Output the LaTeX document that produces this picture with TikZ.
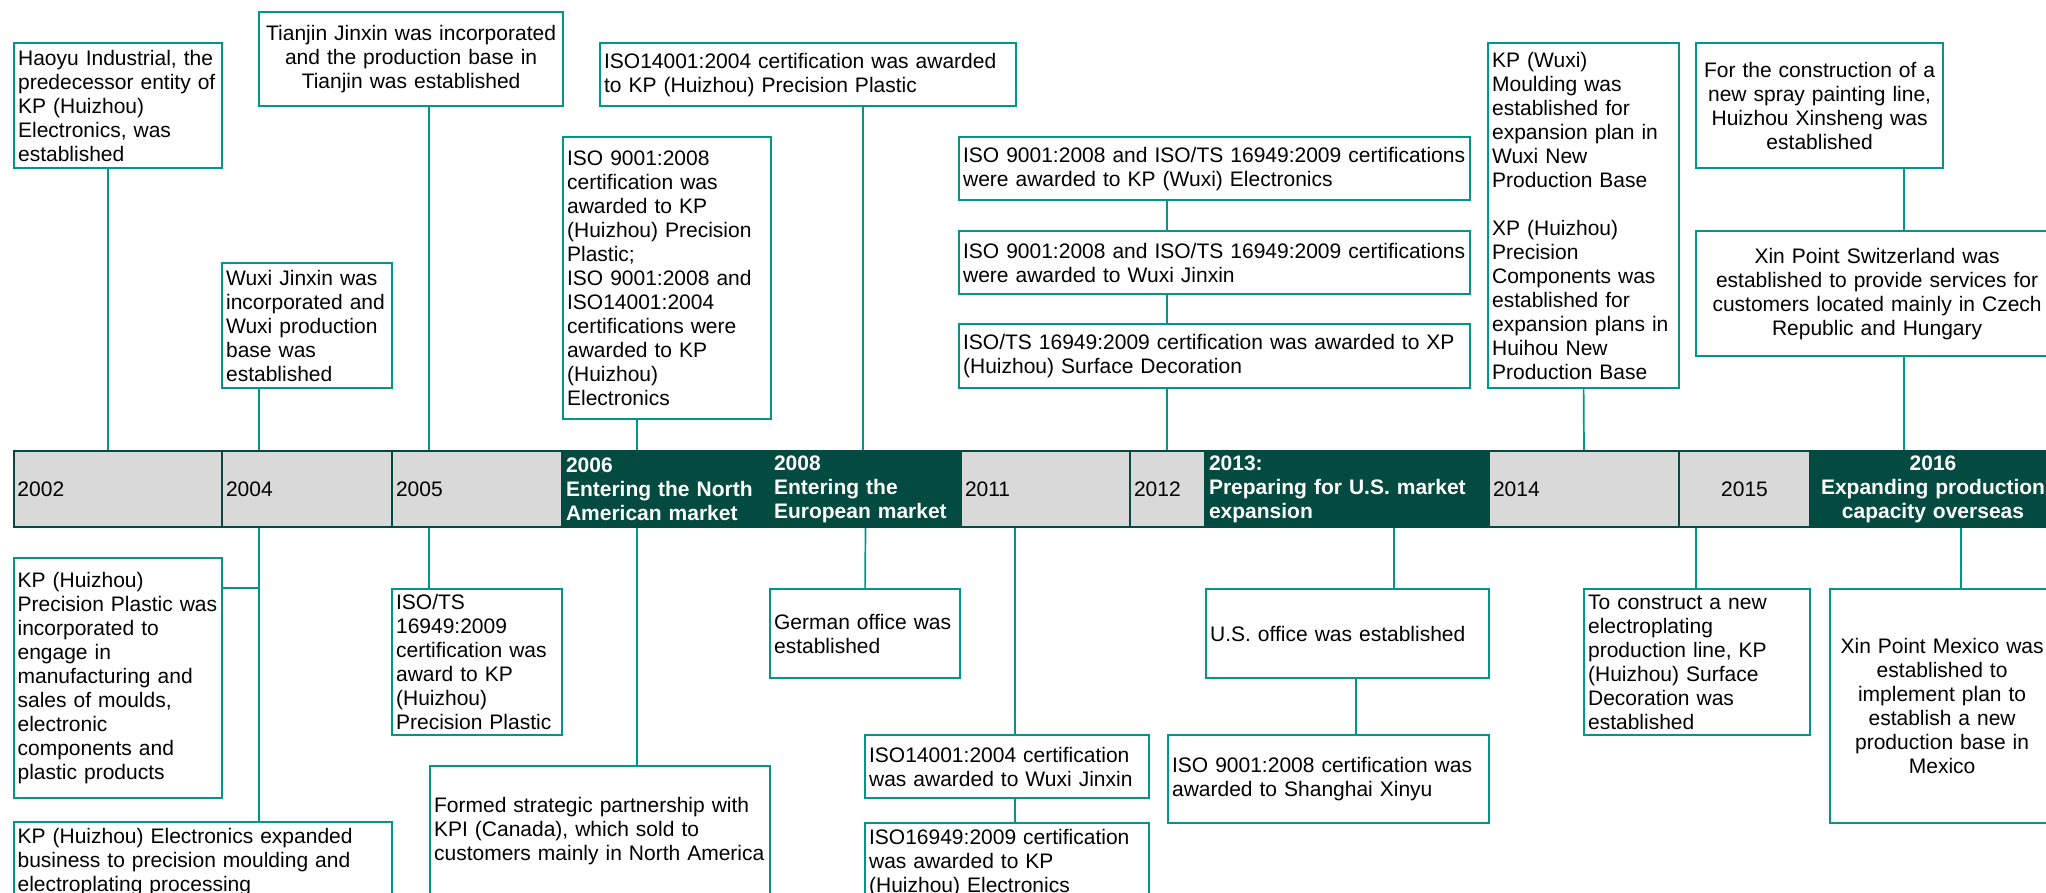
\documentclass[tikz,border=0pt]{standalone}
\usepackage{fontspec}
\setmainfont{Liberation Sans}
\usepackage{xcolor}
\definecolor{tealline}{RGB}{0,150,136}
\definecolor{pine}{RGB}{3,75,64}
\definecolor{cellgrey}{RGB}{217,217,217}

\begin{document}
\begin{tikzpicture}[
    x=0.5pt,y=-0.5pt,font=\fontsize{10.5pt}{12pt}\selectfont,
    event/.style={draw=tealline,line width=1.1pt,fill=white,anchor=north west,
        inner xsep=2pt,inner ysep=0pt,align=left},
    eventc/.style={event,align=center},
    link/.style={draw=tealline,line width=0.85pt},
    yearcell/.style={draw=pine,line width=1pt,fill=cellgrey,anchor=north west,
        minimum height=38pt,inner xsep=2pt,inner ysep=0pt,align=left},
    milestone/.style={yearcell,fill=pine,text=white,
        font=\fontsize{10.5pt}{12pt}\selectfont\bfseries}
]
\useasboundingbox (0,0) rectangle (2046,893);
\clip (0,0) rectangle (2046,893);
\fill[white] (0,0) rectangle (2046,893);

% Bar of years.
\node[yearcell,text width=100.25pt] (y02) at (12.5,450) {2002};
\node[yearcell,text width=81pt] (y04) at (221,450) {2004};
\node[yearcell,text width=81pt] (y05) at (391,450) {2005};
\node[yearcell,text width=80.5pt] (y11) at (960,450) {2011};
\node[yearcell,text width=33.5pt] (y12) at (1129,450) {2012};
\node[yearcell,text width=91pt] (y14) at (1488,450) {2014};
\node[yearcell,text width=61.5pt,align=center] (y15) at (1678,450) {2015};
\node[milestone,text width=100pt] (y06) at (561,450)
    {2006\\Entering the North\\American market};
\node[milestone,text width=91.5pt] (y08) at (769,450)
    {2008\\Entering the\\European market};
\node[milestone,text width=138pt] (y13) at (1204,450)
    {2013:\\Preparing for U.S. market\\expansion};
\node[milestone,text width=119pt,align=center] (y16) at (1809,450)
    {2016\\Expanding production\\capacity overseas};

% Events above the bar.
\node[event,text width=100pt,minimum height=62.5pt] (haoyu) at (13,42)
    {Haoyu Industrial, the\\predecessor entity of\\KP (Huizhou)\\Electronics, was\\established};
\node[eventc,text width=148pt,minimum height=47pt] (tianjin) at (258,11)
    {Tianjin Jinxin was incorporated\\and the production base in\\Tianjin was established};
\node[event,text width=81pt,minimum height=62.5pt] (wuxijx) at (221,262)
    {Wuxi Jinxin was\\incorporated and\\Wuxi production\\base was\\established};
\node[event,text width=204pt,minimum height=31.5pt] (isohz) at (599,42)
    {ISO14001:2004 certification was awarded\\to KP (Huizhou) Precision Plastic};
\node[event,text width=100pt,minimum height=141pt] (iso9001) at (562,136)
    {ISO 9001:2008\\certification was\\awarded to KP\\(Huizhou) Precision\\Plastic;\\ISO 9001:2008 and\\ISO14001:2004\\certifications were\\awarded to KP\\(Huizhou)\\Electronics};
\node[event,text width=251.5pt,minimum height=31.5pt] (certa) at (958,136)
    {ISO 9001:2008 and ISO/TS 16949:2009 certifications\\were awarded to KP (Wuxi) Electronics};
\node[event,text width=251.5pt,minimum height=31.5pt] (certb) at (958,230)
    {ISO 9001:2008 and ISO/TS 16949:2009 certifications\\were awarded to Wuxi Jinxin};
\node[event,text width=251.5pt,minimum height=32pt] (certc) at (958,323)
    {ISO/TS 16949:2009 certification was awarded to XP\\(Huizhou) Surface Decoration};
\node[event,text width=91.5pt,minimum height=172.5pt] (kpwx) at (1487,42)
    {KP (Wuxi)\\Moulding was\\established for\\expansion plan in\\Wuxi New\\Production Base\\[12pt]XP (Huizhou)\\Precision\\Components was\\established for\\expansion plans in\\Huihou New\\Production Base};
\node[eventc,text width=119.5pt,minimum height=62.5pt] (spray) at (1695,42)
    {For the construction of a\\new spray painting line,\\Huizhou Xinsheng was\\established};
\node[eventc,text width=177pt,minimum height=62.5pt] (swiss) at (1695,230)
    {Xin Point Switzerland was\\established to provide services for\\customers located mainly in Czech\\Republic and Hungary};

% Events below the bar.
\node[event,text width=100.25pt,minimum height=120pt] (pp) at (12.5,557)
    {KP (Huizhou)\\Precision Plastic was\\incorporated to\\engage in\\manufacturing and\\sales of moulds,\\electronic\\components and\\plastic products};
\node[event,text width=185.25pt,minimum height=40pt] (expand) at (12.5,821)
    {KP (Huizhou) Electronics expanded\\business to precision moulding and\\electroplating processing};
\node[event,text width=81pt,minimum height=73pt] (isots) at (391,588)
    {ISO/TS\\16949:2009\\certification was\\award to KP\\(Huizhou)\\Precision Plastic};
\node[event,text width=166pt,minimum height=65pt] (formed) at (429,765)
    {Formed strategic partnership with\\KPI (Canada), which sold to\\customers mainly in North America};
\node[event,text width=91pt,minimum height=44.5pt] (german) at (769,588)
    {German office was\\established};
\node[event,text width=138pt,minimum height=31.5pt] (isowx) at (864,734)
    {ISO14001:2004 certification\\was awarded to Wuxi Jinxin};
\node[event,text width=138pt,minimum height=40pt] (iso169) at (864,822)
    {ISO16949:2009 certification\\was awarded to KP\\(Huizhou) Electronics};
\node[event,text width=137.5pt,minimum height=44.5pt] (usoff) at (1205,588)
    {U.S. office was established};
\node[event,text width=156.5pt,minimum height=44pt] (shanghai) at (1167,734)
    {ISO 9001:2008 certification was\\awarded to Shanghai Xinyu};
\node[event,text width=109pt,minimum height=73pt] (construct) at (1583,588)
    {To construct a new\\electroplating\\production line, KP\\(Huizhou) Surface\\Decoration was\\established};
\node[eventc,text width=108pt,minimum height=117pt] (mexico) at (1829,588)
    {Xin Point Mexico was\\established to\\implement plan to\\establish a new\\production base in\\Mexico};

% Connectors above the bar.
\draw[link] (haoyu.south -| 108,0) -- (y02.north -| 108,0);
\draw[link] (wuxijx.south -| 259,0) -- (y04.north -| 259,0);
\draw[link] (tianjin.south -| 429,0) -- (y05.north -| 429,0);
\draw[link] (iso9001.south -| 637,0) -- (y06.north -| 637,0);
\draw[link] (isohz.south -| 863,0) -- (y08.north -| 863,0);
\draw[link] (certa.south -| 1167,0) -- (certb.north -| 1167,0);
\draw[link] (certb.south -| 1167,0) -- (certc.north -| 1167,0);
\draw[link] (certc.south -| 1167,0) -- (y12.north -| 1167,0);
\draw[link] (kpwx.south) -- (y14.north);
\draw[link] (spray.south -| 1904,0) -- (swiss.north -| 1904,0);
\draw[link] (swiss.south -| 1904,0) -- (y16.north -| 1904,0);

% Connectors below the bar.
\coordinate (j04) at (259,588);
\draw[link] (y04.south -| j04) -- (expand.north -| j04);
\draw[link] (pp.east |- j04) -- (j04);
\draw[link] (y05.south -| 429,0) -- (isots.north -| 429,0);
\draw[link] (y06.south -| 637,0) -- (formed.north -| 637,0);
\draw[link] (y08.south) -- (german.north);
\draw[link] (y11.south -| 1015,0) -- (isowx.north -| 1015,0);
\draw[link] (isowx.south -| 1015,0) -- (iso169.north -| 1015,0);
\draw[link] (y13.south -| 1394,0) -- (usoff.north -| 1394,0);
\draw[link] (usoff.south -| 1356,0) -- (shanghai.north -| 1356,0);
\draw[link] (y15.south -| 1696,0) -- (construct.north -| 1696,0);
\draw[link] (y16.south -| 1961,0) -- (mexico.north -| 1961,0);
\end{tikzpicture}
\end{document}
